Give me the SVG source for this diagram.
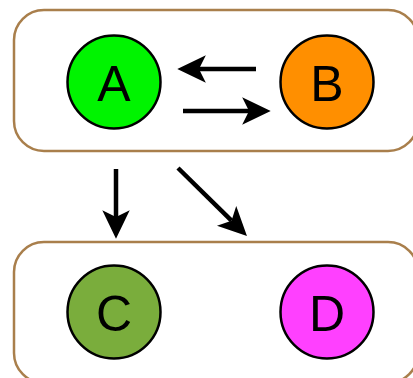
<svg xmlns="http://www.w3.org/2000/svg" width="413" height="378" viewBox="0 0 413 378">
<style>
.box{fill:#fff;stroke:#a97f4c;stroke-width:2.5}
.node{stroke:#000;stroke-width:2.5}
.lbl{font-family:"Liberation Sans",Arial,sans-serif;font-size:50px;fill:#000;text-anchor:middle}
.edge{stroke:#000;stroke-width:4.5;fill:none}
</style>
<defs>
<marker id="ah" markerUnits="userSpaceOnUse" markerWidth="40" markerHeight="40" viewBox="-10 -15 35 30" refX="0" refY="0" orient="auto" overflow="visible">
<path d="M19,0 L-6,-12 L0,0 L-6,12 Z" fill="#000"/>
</marker>
</defs>
<g id="group1"><rect class="box" x="14" y="10" width="404" height="141" rx="30" ry="30"/></g>
<g id="group2"><rect class="box" x="14" y="242" width="404" height="141" rx="30" ry="30"/></g>
<g id="nodeA"><circle class="node" cx="114" cy="82" r="46.5" fill="#00f400"/><text class="lbl" x="114" y="101">A</text></g>
<g id="nodeB"><circle class="node" cx="327" cy="82" r="46.5" fill="#ff8f00"/><text class="lbl" x="327" y="101">B</text></g>
<g id="nodeC"><circle class="node" cx="114" cy="312" r="46.5" fill="#7aad3c"/><text class="lbl" x="114" y="331">C</text></g>
<g id="nodeD"><circle class="node" cx="327" cy="312" r="46.5" fill="#ff40ff"/><text class="lbl" x="327" y="331">D</text></g>
<g id="connectors">
<line class="edge" x1="256" y1="69" x2="199" y2="69" marker-end="url(#ah)"/>
<line class="edge" x1="183" y1="111" x2="249" y2="111" marker-end="url(#ah)"/>
<line class="edge" x1="116" y1="169" x2="116" y2="217" marker-end="url(#ah)"/>
<line class="edge" x1="178" y1="168" x2="231.5" y2="220.7" marker-end="url(#ah)"/>
</g>
</svg>
